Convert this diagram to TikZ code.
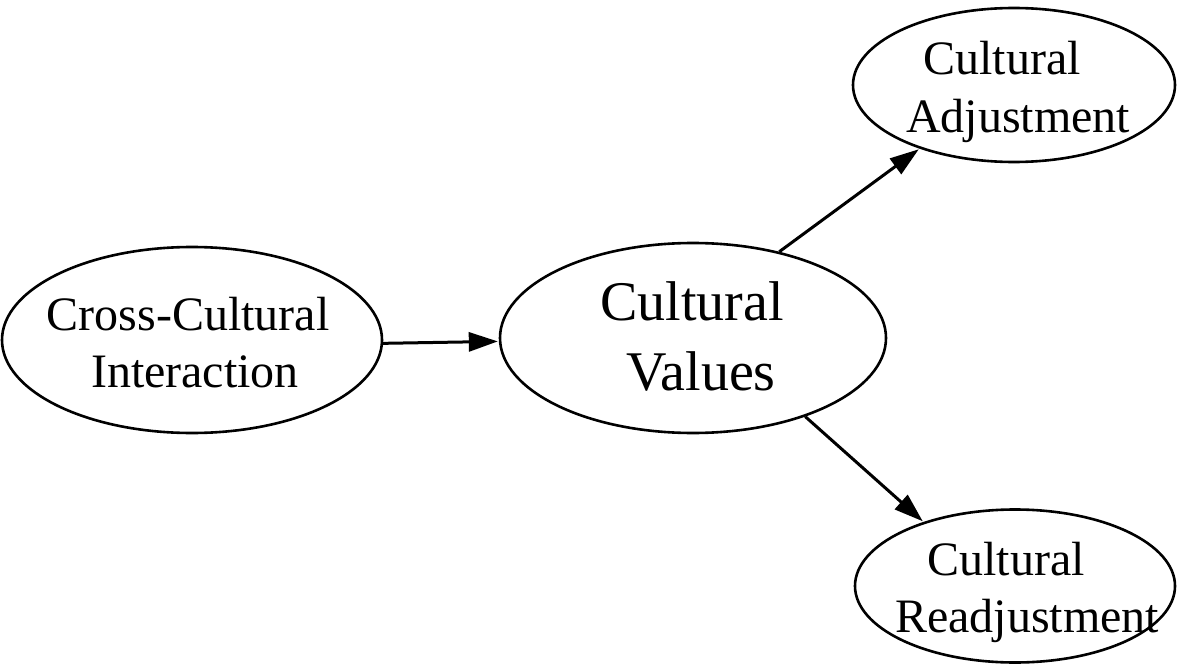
\documentclass[tikz,border=0pt]{standalone}
\usepackage{fontspec}
\setmainfont{Liberation Serif}
\usetikzlibrary{shapes.geometric,arrows.meta}
\begin{document}
\begin{tikzpicture}[x=1pt,y=-1pt,
  ell/.style={draw=black,line width=2.6pt,ellipse,inner sep=0pt},
  lbl/.style={anchor=base,inner sep=0pt,font=\fontsize{48}{56}\selectfont},
  biglbl/.style={anchor=base,inner sep=0pt,font=\fontsize{56}{66}\selectfont},
  arr/.style={line width=3pt,-{Triangle[length=29pt,width=19pt]},shorten >=1pt}]
\useasboundingbox (0,0) rectangle (1178,666);
% ellipses
\node[ell,minimum width=380pt,minimum height=186pt] (cc) at (192,340) {};
\node[ell,minimum width=386pt,minimum height=190pt] (cv) at (693,338) {};
\node[ell,minimum width=322pt,minimum height=154pt] (adj) at (1014,85) {};
\node[ell,minimum width=320pt,minimum height=153pt] (readj) at (1015,586) {};
% texts
\node[lbl] (cc1) at (188,330) {Cross-Cultural};
\node[lbl] (cc2) at (195,387) {Interaction};
\node[biglbl] (cv1) at (692,320) {Cultural};
\node[biglbl] (cv2) at (701,390) {Values};
\node[lbl] (adj1) at (1002,75) {Cultural};
\node[lbl] (adj2) at (1018,132) {Adjustment};
\node[lbl] (readj1) at (1006,575) {Cultural};
\node[lbl] (readj2) at (1027,632) {Readjustment};
% connectors
\draw[arr] (cc.-1) -- (cv.181.5);
\draw[arr] (cv.45) -- (adj.214);
\draw[arr] (cv.325) -- (readj.145);
\end{tikzpicture}
\end{document}
